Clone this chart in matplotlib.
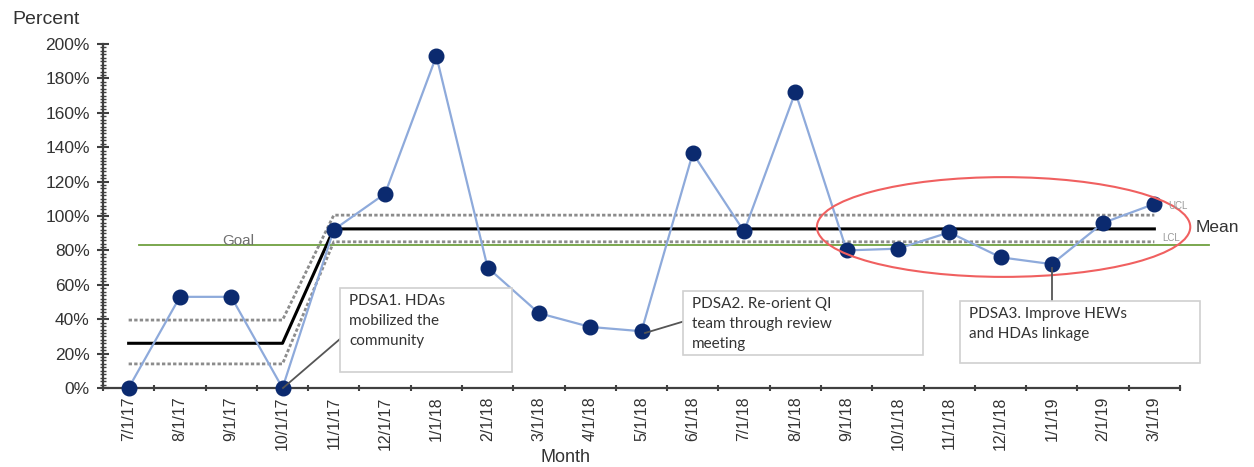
import numpy as np
import matplotlib.pyplot as plt
from matplotlib.patches import Ellipse, Rectangle
from matplotlib.ticker import MultipleLocator, FixedLocator

plt.rcParams['font.family'] = ['Liberation Sans', 'DejaVu Sans']

months = ['7/1/17', '8/1/17', '9/1/17', '10/1/17', '11/1/17', '12/1/17',
          '1/1/18', '2/1/18', '3/1/18', '4/1/18', '5/1/18', '6/1/18',
          '7/1/18', '8/1/18', '9/1/18', '10/1/18', '11/1/18', '12/1/18',
          '1/1/19', '2/1/19', '3/1/19']
percent = [0, 53, 53, 0, 92, 113, 193, 70, 43.5, 35.5, 33, 136.5,
           91, 172, 80, 81, 90.5, 76, 72, 96, 107]

# control limits, phase 1 (first four months) and phase 2
mean_line = [26] * 4 + [92.5] * 17
ucl_line = [39.5] * 4 + [100.5] * 17
lcl_line = [14] * 4 + [85] * 17
goal = 83

x = np.arange(len(months))

W, H = 1254, 467
fig = plt.figure(figsize=(W / 100, H / 100), dpi=100)
ax = fig.add_axes([103 / W, 1 - 388 / H, (1180 - 103) / W, (388 - 44) / H])


def px(xp, yp):
    return xp / W, 1 - yp / H


ax.plot(x, ucl_line, color='#8c8c8c', lw=2, ls=(0, (1.2, 0.8)), zorder=2)
ax.plot(x, lcl_line, color='#8c8c8c', lw=2, ls=(0, (1.2, 0.8)), zorder=2)
ax.plot(x, mean_line, color='black', lw=2.2, zorder=2)
ax.plot([0.2, 21.07], [goal, goal], color='#70a040', lw=1.3, zorder=1, clip_on=False)

ax.plot(x, percent, color='#8eaadb', lw=1.6, zorder=3)
ax.plot(x, percent, ls='none', marker='o', ms=10.5, color='#0b2a6f',
        markeredgecolor='#0b2a6f', zorder=4, clip_on=False)

ax.add_patch(Ellipse((17.06, 93.6), 7.28, 58, fill=False, ec='#f06060', lw=1.5,
                     zorder=5, clip_on=False))

ax.set_xlim(-0.5, len(months) - 0.5)
ax.set_ylim(0, 200)
ax.set_xticks(x)
ax.set_xticklabels(months, rotation=90, fontsize=11.5, color='#333333')
ax.xaxis.set_minor_locator(FixedLocator(np.arange(-0.5, len(months), 1)))
ax.tick_params(axis='x', which='major', length=0, pad=6)
ax.tick_params(axis='x', which='minor', length=5, width=1.5, direction='inout',
               color='#404040')

ax.set_yticks(range(0, 201, 20))
ax.yaxis.set_minor_locator(MultipleLocator(2))
ax.set_yticklabels([f'{v}%' for v in range(0, 201, 20)], fontsize=12.5, color='#333333')
ax.tick_params(axis='y', which='major', length=9, width=1.5, direction='inout',
               color='#404040', pad=5)
ax.tick_params(axis='y', which='minor', length=4, width=1, direction='inout',
               color='#404040')

for s in ['top', 'right']:
    ax.spines[s].set_visible(False)
for s in ['left', 'bottom']:
    ax.spines[s].set_color('#404040')
    ax.spines[s].set_linewidth(1.6)

fig.text(*px(12, 20), 'Percent', fontsize=14, color='#333333', va='center', ha='left')
fig.text(*px(566, 458), 'Month', fontsize=13, color='#333333', va='center', ha='center')
fig.text(*px(238, 241), 'Goal', fontsize=11, color='#707070', va='center', ha='center')
fig.text(*px(1168, 206), 'UCL', fontsize=7, color='#999999', va='center', ha='left')
fig.text(*px(1162, 238), 'LCL', fontsize=7, color='#999999', va='center', ha='left')
fig.text(*px(1196, 227), 'Mean', fontsize=12.5, color='#333333', va='center', ha='left')

boxes = [
    ((340, 288, 512, 372), 'PDSA1. HDAs\nmobilized the\ncommunity', (283, 388), (340, 339)),
    ((683, 291, 923, 355), 'PDSA2. Re-orient QI\nteam through review\nmeeting', (645, 333), (685, 321)),
    ((960, 301, 1200, 363), 'PDSA3. Improve HEWs\nand HDAs linkage', (1052, 268), (1052, 301)),
]
for (l, t, r, b), label, p0, p1 in boxes:
    x0, y0 = px(l, b)
    x1, y1 = px(r, t)
    fig.patches.append(Rectangle((x0, y0), x1 - x0, y1 - y0, transform=fig.transFigure,
                                 fc='white', ec='#d0d0d0', lw=1.2, zorder=6))
    fig.text(*px(l + 9, t + 6), label, fontsize=11, family=['Lato', 'DejaVu Sans'],
             color='#333333', va='top', ha='left', linespacing=1.55, zorder=7)
    fig.add_artist(plt.Line2D([p0[0] / W, p1[0] / W], [1 - p0[1] / H, 1 - p1[1] / H],
                              transform=fig.transFigure, color='#555555', lw=1.3, zorder=5))

fig.savefig('out.png', dpi=100)
